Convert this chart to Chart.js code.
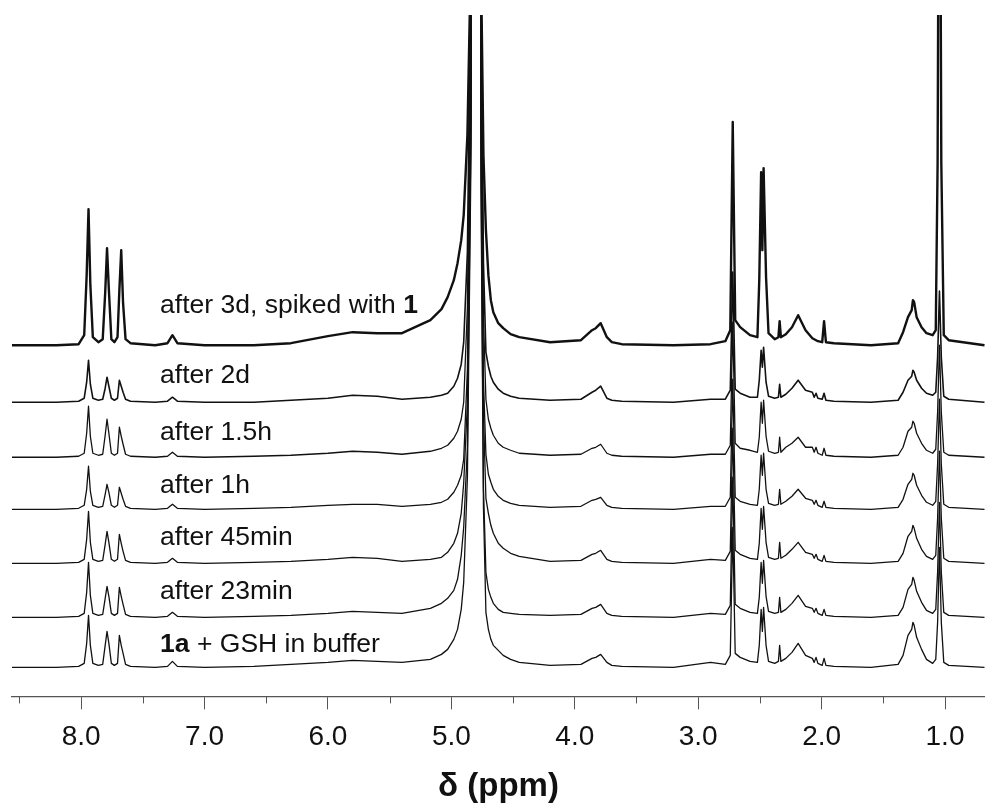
<!DOCTYPE html>
<html>
<head>
<meta charset="utf-8">
<script src="https://cdn.jsdelivr.net/npm/chart.js@4"></script>
<style>
  html, body { margin: 0; padding: 0; background: #fff; }
  #wrap { width: 985px; height: 803px; position: relative; }
</style>
</head>
<body>
<div id="wrap"><canvas id="nmr"></canvas></div>
<script>
// chemical shift grid (ppm), shared by all spectra
const shiftPpm = [
  8.56, 8.20, 8.02, 7.975, 7.955, 7.94, 7.925, 7.905, 7.86, 7.825,
  7.805, 7.79, 7.775, 7.755, 7.73, 7.705, 7.69, 7.675, 7.66, 7.64,
  7.60, 7.40, 7.30, 7.26, 7.22, 7.00, 6.60, 6.30, 6.00, 5.80,
  5.60, 5.40, 5.17, 5.08, 5.03, 4.98, 4.95, 4.92, 4.90, 4.87,
  4.84, 4.80, 4.76, 4.74, 4.72, 4.70, 4.68, 4.66, 4.62, 4.58,
  4.52, 4.45, 4.20, 3.95, 3.86, 3.83, 3.79, 3.74, 3.70, 3.62,
  3.20, 2.90, 2.78, 2.74, 2.72, 2.70, 2.66, 2.58, 2.52, 2.505,
  2.49, 2.48, 2.47, 2.45, 2.43, 2.38, 2.35, 2.34, 2.33, 2.29,
  2.24, 2.19, 2.13, 2.075, 2.06, 2.045, 2.03, 1.995, 1.98, 1.965,
  1.90, 1.60, 1.38, 1.34, 1.30, 1.27, 1.26, 1.25, 1.23, 1.19,
  1.15, 1.10, 1.075, 1.06, 1.045, 1.03, 1.01, 0.97, 0.68
];

// intensities (arbitrary units)
const inBuffer = [
  0, 0, 1, 4, 24, 52, 22, 4, 2, 3,
  22, 36, 24, 4, 2, 4, 32, 22, 14, 3,
  1, 0, 1, 6, 1, 0, 1, 3, 5, 7,
  6, 5, 8, 13, 18, 28, 38, 58, 85, 190,
  520, 3000, 480, 160, 55, 38, 28, 22, 17, 12,
  8, 5, 2, 3, 9, 10, 13, 5, 2, 1,
  0, 5, 3, 12, 140, 14, 10, 6, 5, 22,
  58, 36, 60, 22, 6, 4, 6, 22, 6, 9,
  15, 24, 12, 9, 5, 10, 4, 2, 9, 2,
  1, 0, 3, 12, 32, 38, 45, 42, 30, 18,
  8, 4, 8, 45, 120, 45, 5, 2, 0
];
const after23min = [
  0, 0, 1, 4, 25, 55, 22, 4, 2, 3,
  19, 31, 21, 4, 2, 4, 30, 21, 13, 3,
  1, 0, 1, 5, 1, 0, 1, 2, 4, 6,
  5, 4, 9, 14, 19, 27, 38, 62, 90, 170,
  500, 3000, 460, 130, 45, 28, 20, 14, 8, 5,
  4, 3, 2, 3, 9, 10, 13, 4, 2, 1,
  0, 4, 3, 12, 140, 13, 9, 5, 4, 20,
  55, 34, 57, 21, 6, 4, 5, 20, 5, 8,
  14, 22, 11, 9, 5, 9, 4, 2, 8, 2,
  1, 0, 2, 10, 28, 33, 40, 37, 26, 15,
  7, 4, 8, 45, 115, 45, 5, 2, 0
];
const after45min = [
  0, 0, 1, 4, 24, 52, 21, 4, 2, 3,
  19, 32, 21, 4, 2, 4, 29, 20, 12, 3,
  1, 0, 1, 5, 1, 0, 1, 2, 4, 6,
  5, 2, 4, 6, 11, 20, 30, 50, 80, 160,
  480, 3000, 440, 150, 65, 50, 38, 30, 20, 15,
  10, 7, 2, 3, 9, 10, 13, 4, 2, 1,
  0, 4, 3, 12, 135, 13, 9, 5, 4, 20,
  55, 34, 57, 21, 6, 4, 5, 21, 5, 8,
  14, 21, 11, 9, 5, 9, 4, 2, 8, 2,
  1, 0, 2, 10, 27, 32, 38, 35, 25, 14,
  7, 4, 8, 45, 112, 45, 5, 2, 0
];
const after1h = [
  0, 0, 1, 4, 20, 43, 18, 4, 2, 3,
  15, 25, 17, 4, 2, 4, 22, 16, 10, 3,
  1, 0, 1, 5, 1, 0, 1, 2, 4, 5,
  5, 3, 5, 7, 10, 17, 24, 34, 50, 140,
  460, 3000, 430, 130, 55, 35, 27, 20, 13, 9,
  6, 4, 2, 3, 9, 10, 12, 4, 2, 1,
  0, 3, 3, 12, 130, 12, 8, 5, 4, 20,
  54, 34, 56, 20, 6, 4, 5, 20, 5, 8,
  13, 20, 11, 9, 5, 9, 4, 2, 8, 2,
  1, 0, 2, 10, 25, 30, 36, 34, 24, 14,
  7, 4, 8, 45, 110, 45, 5, 2, 0
];
const after1_5h = [
  0, 0, 1, 4, 24, 51, 21, 4, 2, 3,
  22, 38, 24, 4, 2, 4, 30, 21, 13, 3,
  1, 0, 1, 5, 1, 0, 1, 2, 4, 6,
  5, 3, 6, 9, 12, 19, 26, 38, 55, 150,
  460, 3000, 440, 140, 58, 38, 29, 22, 14, 10,
  7, 4, 2, 3, 9, 10, 13, 4, 2, 1,
  0, 3, 3, 12, 135, 14, 9, 7, 5, 20,
  55, 34, 57, 21, 6, 4, 5, 20, 5, 10,
  14, 20, 10, 10, 5, 10, 4, 2, 9, 2,
  1, 0, 2, 10, 26, 30, 36, 34, 24, 14,
  7, 4, 8, 45, 112, 45, 5, 2, 0
];
const after2d = [
  0, 0, 1, 4, 20, 42, 18, 4, 2, 3,
  14, 25, 16, 4, 2, 4, 22, 16, 10, 3,
  1, 0, 1, 5, 1, 0, 0, 2, 4, 7,
  6, 3, 5, 7, 9, 16, 24, 38, 60, 150,
  450, 3000, 420, 140, 50, 36, 26, 20, 13, 9,
  6, 4, 2, 3, 10, 12, 16, 4, 2, 1,
  0, 3, 3, 12, 130, 13, 9, 5, 5, 22,
  52, 35, 55, 20, 6, 4, 5, 18, 5, 8,
  14, 22, 12, 10, 5, 9, 4, 3, 9, 2,
  1, 0, 2, 10, 22, 26, 32, 30, 22, 14,
  9, 7, 10, 45, 111, 45, 6, 3, 0
];
const spiked3d = [
  0, 0, 1, 10, 70, 136, 60, 8, 3, 6,
  52, 97, 55, 6, 3, 8, 55, 95, 42, 6,
  2, 0, 2, 10, 2, 0, 0, 2, 9, 13,
  12, 12, 25, 36, 48, 65, 82, 105, 130, 210,
  400, 1500, 380, 190, 115, 70, 45, 33, 22, 17,
  11, 8, 3, 5, 15, 17, 22, 8, 3, 1,
  0, 1, 4, 15, 223, 25, 18, 10, 8, 65,
  173, 95, 177, 68, 12, 6, 8, 24, 8, 11,
  18, 30, 15, 7, 6, 5, 4, 3, 24, 3,
  2, 0, 2, 13, 28, 35, 45, 43, 28, 18,
  12, 10, 15, 182, 700, 182, 10, 5, 0
];

const traces = [inBuffer, after23min, after45min, after1h, after1_5h, after2d, spiked3d];
const traceLabels = [
  [['1a', true], [' + GSH in buffer', false]],
  [['after 23min', false]],
  [['after 45min', false]],
  [['after 1h', false]],
  [['after 1.5h', false]],
  [['after 2d', false]],
  [['after 3d, spiked with ', false], ['1', true]]
];
const xTicks = [8, 7, 6, 5, 4, 3, 2, 1];
const minorTicks = [8.5, 7.5, 6.5, 5.5, 4.5, 3.5, 2.5, 1.5];

// layout: vertical stacking of the traces and label placement
const stackOffset = [0, 50, 104, 158, 210, 265, 322];
const labelLift = [15, 18, 18, 16, 17, 19, 32];
const labelPpm = 7.36;
const lineWidths = [1.3, 1.3, 1.3, 1.3, 1.3, 1.6, 2.4];
const FONT = '"Liberation Sans", Arial, Helvetica, sans-serif';

const datasets = traces.map((vals, i) => ({
  data: shiftPpm.map((p, k) => ({ x: p, y: vals[k] + stackOffset[i] })),
  borderColor: '#111',
  borderWidth: lineWidths[i],
  pointRadius: 0,
  tension: 0,
  borderJoinStyle: 'round',
  fill: false
}));

const extras = {
  id: 'extras',
  afterDatasetsDraw(chart) {
    const { ctx, scales: { x, y } } = chart;
    ctx.save();
    // minor ticks
    ctx.strokeStyle = '#555';
    ctx.lineWidth = 1;
    const base = chart.chartArea.bottom;
    minorTicks.forEach(v => {
      const px = Math.round(x.getPixelForValue(v)) + 0.5;
      ctx.beginPath();
      ctx.moveTo(px, base);
      ctx.lineTo(px, base + 7);
      ctx.stroke();
    });
    // trace labels
    ctx.fillStyle = '#111';
    ctx.textBaseline = 'alphabetic';
    ctx.textAlign = 'left';
    traceLabels.forEach((parts, i) => {
      let px = x.getPixelForValue(labelPpm);
      const py = y.getPixelForValue(stackOffset[i] + labelLift[i]);
      parts.forEach(([txt, bold]) => {
        ctx.font = (bold ? 'bold ' : '') + '26.5px ' + FONT;
        ctx.fillText(txt, px, py);
        px += ctx.measureText(txt).width;
      });
    });
    ctx.restore();
  }
};

new Chart(document.getElementById('nmr'), {
  type: 'line',
  data: { datasets },
  options: {
    responsive: true,
    maintainAspectRatio: false,
    animation: false,
    devicePixelRatio: 1,
    layout: { padding: { left: 12, right: 0, top: 15, bottom: 0 } },
    plugins: { legend: { display: false }, tooltip: { enabled: false } },
    scales: {
      x: {
        type: 'linear',
        reverse: true,
        min: 0.676,
        max: 8.56,
        afterBuildTicks: (axis) => { axis.ticks = xTicks.map(v => ({ value: v })); },
        ticks: {
          includeBounds: false,
          color: '#111',
          padding: 11,
          font: { family: FONT, size: 28 },
          callback: (v) => Number(v).toFixed(1)
        },
        grid: { drawOnChartArea: false, drawTicks: true, tickLength: 13, tickColor: '#555', tickWidth: 1 },
        border: { display: true, color: '#555', width: 1.2 },
        title: {
          display: true,
          text: 'δ (ppm)',
          color: '#111',
          font: { family: FONT, size: 33, weight: 'bold', lineHeight: 1 },
          padding: { top: 5, bottom: 0 }
        }
      },
      y: {
        type: 'linear',
        display: false,
        min: -29,
        max: 652
      }
    }
  },
  plugins: [extras]
});
</script>
</body>
</html>
